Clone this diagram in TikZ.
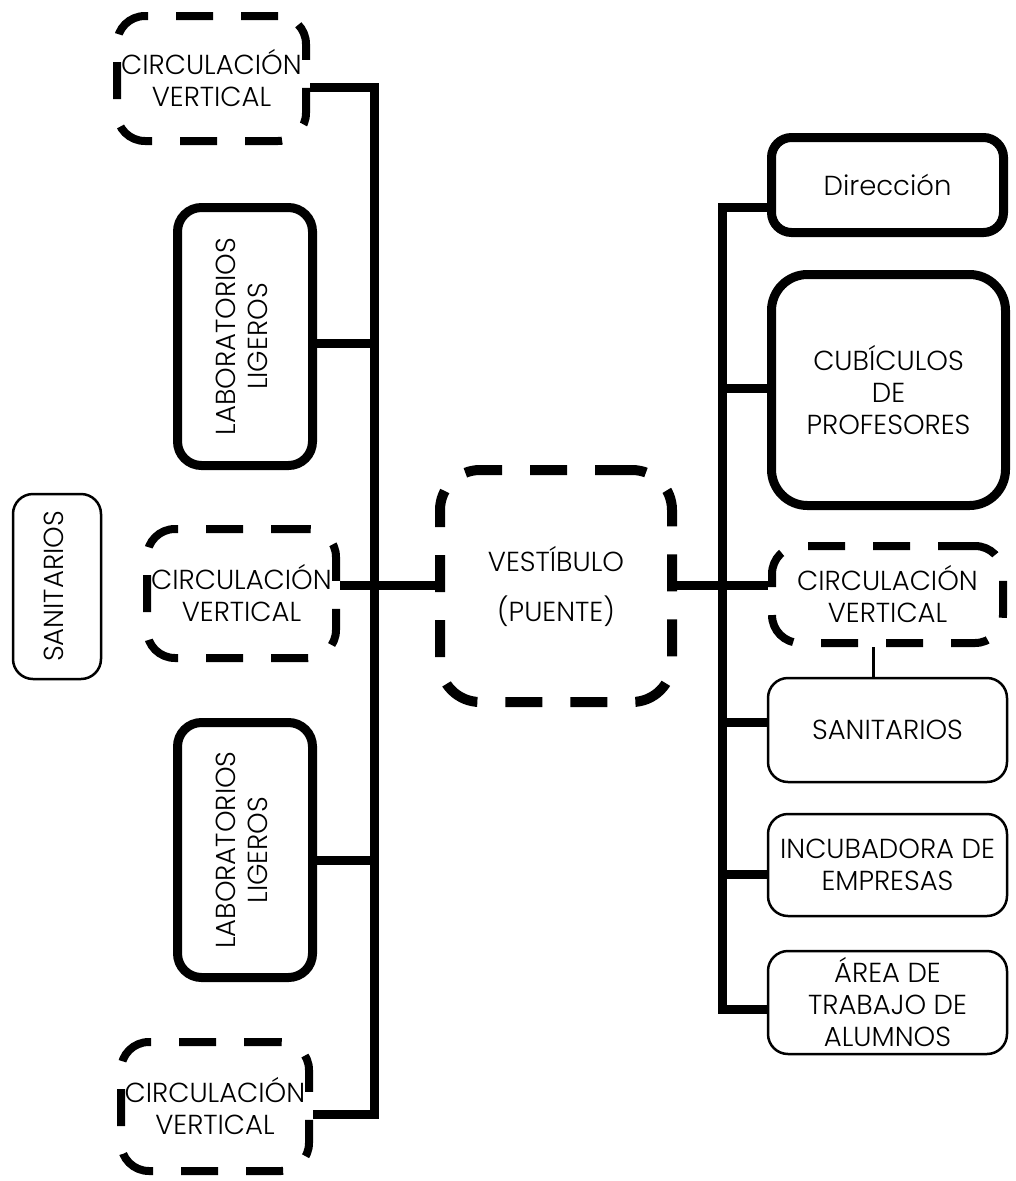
\documentclass[tikz,border=0pt]{standalone}
\usepackage{fontspec}
\setmainfont{Poppins}[UprightFont=* Light]
\usepackage{graphicx}

\newcommand\vtext[1]{\rotatebox{90}{\begin{tabular}{@{}c@{}}#1\end{tabular}}}

\tikzset{every node/.style={font=\fontsize{27.5}{32}\selectfont,align=center,inner sep=0pt},
        heavy/.style={shape=rectangle,draw=black,fill=white,line width=9pt,rounded corners=24pt},
        light/.style={shape=rectangle,draw=black,fill=white,line width=2.5pt,rounded corners=20pt},
        dashbox/.style={shape=rectangle,draw=black,fill=white,line width=8pt,rounded corners=28pt,
                dash pattern=on 37pt off 28pt},
        wire/.style={draw=black,line width=9pt},
        thinwire/.style={draw=black,line width=3pt}}

\begin{document}
\begin{tikzpicture}[x=1pt,y=-1pt]
        \useasboundingbox (0,0) rectangle (1015,1181);

        % left wing
        \node[dashbox,minimum width=189pt,minimum height=125pt] (cvTop) at (211.5,78.5) {CIRCULACIÓN\\VERTICAL};
        \node[heavy,minimum width=135pt,minimum height=258pt] (labA) at (245,336.5) {\vtext{LABORATORIOS\\LIGEROS}};
        \node[dashbox,minimum width=189pt,minimum height=129pt] (cvMid) at (241.5,593.5) {CIRCULACIÓN\\VERTICAL};
        \node[heavy,minimum width=135pt,minimum height=255pt] (labB) at (245,850) {\vtext{LABORATORIOS\\LIGEROS}};
        \node[dashbox,minimum width=188pt,minimum height=129pt] (cvBot) at (215,1106.5) {CIRCULACIÓN\\VERTICAL};
        \node[light,minimum width=88pt,minimum height=185pt] (sanL) at (57,586.5) {\vtext{SANITARIOS}};

        % centre
        \node[dashbox,line width=10pt,rounded corners=40pt,minimum width=232pt,minimum height=232pt,
                font=\fontsize{27.5}{50}\selectfont] (vest) at (556,586) {VESTÍBULO\\(PUENTE)};

        % right wing
        \node[heavy,rounded corners=20pt,minimum width=232pt,minimum height=95pt] (dir) at (887.5,185) {Dirección};
        \node[heavy,rounded corners=36pt,minimum width=234pt,minimum height=231pt] (cub) at (888.5,390) {CUBÍCULOS\\DE\\PROFESORES};
        \node[dashbox,minimum width=231pt,minimum height=97pt] (cvR) at (887.5,594.5) {CIRCULACIÓN\\VERTICAL};
        \node[light,minimum width=239pt,minimum height=104pt] (sanR) at (887.5,730) {SANITARIOS};
        \node[light,minimum width=239pt,minimum height=102pt] (inc) at (887.5,865) {INCUBADORA DE\\EMPRESAS};
        \node[light,minimum width=239pt,minimum height=103pt] (area) at (887.5,1002.5) {ÁREA DE\\TRABAJO DE\\ALUMNOS};

        % spines
        \coordinate (lt) at (374,87);
        \coordinate (la) at (374,343);
        \coordinate (lm) at (374,585);
        \coordinate (lc) at (374,860);
        \coordinate (lb) at (374,1114);
        \coordinate (rt) at (722,207);
        \coordinate (rc) at (722,388);
        \coordinate (rv) at (722,585);
        \coordinate (rs) at (722,722);
        \coordinate (ri) at (722,874);
        \coordinate (rb) at (722,1009);

        \draw[wire] (cvTop.east |- lt) -- (lt) -- (lb) -- (cvBot.east |- lb);
        \draw[wire] (labA.east |- la) -- (la);
        \draw[wire] (cvMid.east |- lm) -- (vest.west |- lm);
        \draw[wire] (labB.east |- lc) -- (lc);

        \draw[wire] (dir.west |- rt) -- (rt) -- (rb) -- (area.west |- rb);
        \draw[wire] (cub.west |- rc) -- (rc);
        \draw[wire] (vest.east |- rv) -- (rv) -- (cvR.west |- rv);
        \draw[wire] (sanR.west |- rs) -- (rs);
        \draw[wire] (inc.west |- ri) -- (ri);
        \draw[thinwire] ([xshift=-14.5pt]cvR.south) -- ([xshift=-14.5pt]sanR.north);
\end{tikzpicture}
\end{document}
